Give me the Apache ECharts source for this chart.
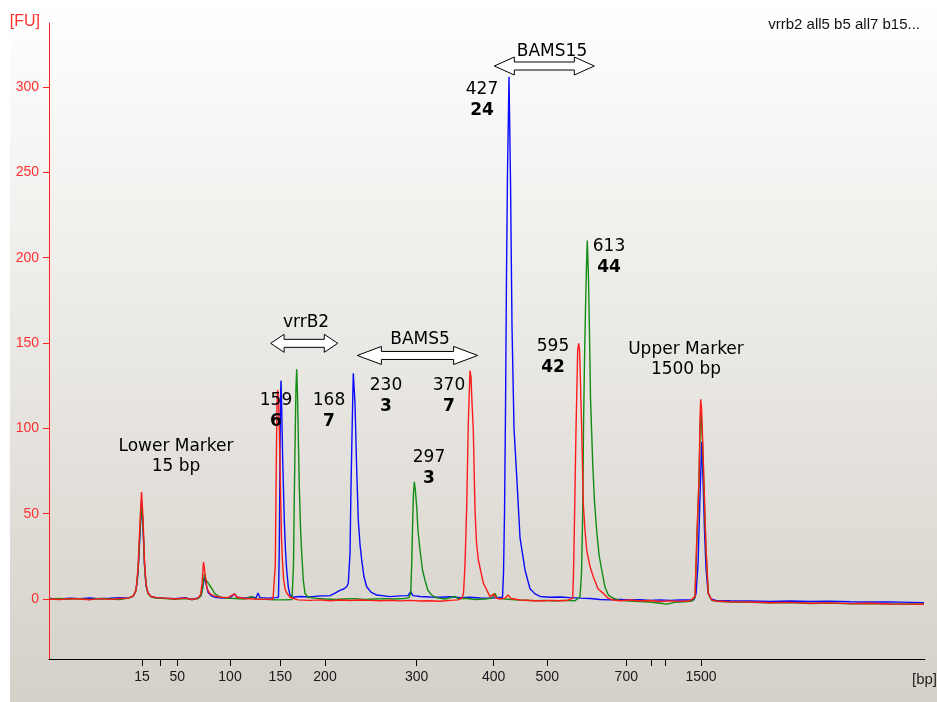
<!DOCTYPE html>
<html>
<head>
<meta charset="utf-8">
<script src="https://cdn.jsdelivr.net/npm/echarts@6/dist/echarts.min.js"></script>
<style>
html,body{margin:0;padding:0;background:#ffffff;}
#c{position:absolute;left:10px;top:0;width:927px;height:702px;}
</style>
</head>
<body>
<div id="c"></div>
<script>
// ---- data (x = migration time units, y = fluorescence [FU]) ----
const ladderBp   = [15, 25, 50, 100, 150, 200, 300, 400, 500, 700, 850, 1000, 1500];
const ladderTime = [14.2, 16.03, 17.73, 23.0, 28.03, 32.5, 41.67, 49.37, 54.73, 62.63, 65.17, 66.5, 70.1];
const hiddenLadderLabels = [25, 850, 1000];
const fuTicks = [0, 50, 100, 150, 200, 250, 300];

const blueTrace = [[4.9,0.3],[6.0,0],[7.0,0.5],[8.0,0.2],[9.0,0.6],[10.0,0.1],[11.0,0.4],[12.0,0.8],[12.8,0.5],[13.3,1.5],[13.6,5],[13.8,15],[14.0,38],[14.15,57],[14.3,42],[14.45,20],[14.6,8],[14.8,3.5],[15.1,1.5],[15.6,0.8],[16.5,0.5],[17.5,0.2],[18.5,0.8],[19.2,-0.3],[19.8,0.6],[20.1,2],[20.25,6],[20.45,13],[20.6,9],[20.8,4],[21.1,2],[21.5,1],[22.2,0.6],[23.0,0.8],[23.45,3],[23.7,1],[24.5,0.5],[25.2,1.2],[25.6,0.6],[25.8,3.5],[26.0,0.8],[26.8,0.5],[27.6,0.8],[27.85,1],[27.93,30],[28.0,85],[28.06,120],[28.1,128],[28.16,115],[28.27,81.4],[28.43,46],[28.55,28],[28.67,17],[28.83,7],[29.0,2.3],[29.3,1],[30.0,1.5],[31.0,1.2],[32.0,1.8],[32.7,1.8],[33.0,2],[33.5,3.5],[34.0,5],[34.4,6],[34.67,7.2],[34.83,9.2],[35.0,26.8],[35.1,65.8],[35.23,104.9],[35.33,132.2],[35.5,114.7],[35.67,75.6],[35.83,46.3],[36.0,32],[36.17,22.9],[36.4,13],[36.67,7.2],[37.1,4],[37.67,2.3],[39.0,1.4],[40.0,1.8],[40.8,2],[41.07,4.3],[41.3,2],[42.0,1.5],[43.0,1.2],[44.0,1],[45.0,1.3],[46.0,0.8],[47.0,1],[48.0,0.6],[49.0,0.5],[49.7,0.8],[50.25,1],[50.35,15],[50.45,50],[50.55,110],[50.65,190],[50.75,250],[50.9,306],[51.05,245],[51.2,160],[51.4,100],[51.67,72],[52.0,36],[52.5,17],[53.0,6],[53.5,3],[54.0,1.5],[55.0,1],[56.0,1.2],[57.0,0.8],[58.0,0.5],[59.0,0.3],[60.0,-0.3],[61.0,-0.5],[62.0,-0.2],[63.0,-0.6],[64.0,-0.4],[65.0,-0.8],[66.0,-0.5],[67.0,-0.8],[68.0,-0.5],[69.0,-0.6],[69.4,-0.5],[69.6,3],[69.8,20],[70.0,60],[70.17,92],[70.3,70],[70.45,40],[70.6,18],[70.8,4],[71.1,0],[71.6,-0.8],[73.0,-1],[75.0,-1.2],[77.0,-1.4],[79.0,-1.2],[81.0,-1.5],[83.0,-1.3],[85.0,-1.6],[87.0,-1.8],[89.0,-1.7],[91.0,-2],[92.4,-2.2]];

const redTrace = [[4.9,0],[6.0,-0.3],[7.0,0.2],[8.0,0],[9.0,-0.4],[10.0,0.2],[11.0,-0.2],[12.0,0.3],[12.8,0.5],[13.3,1.5],[13.6,5],[13.8,18],[14.0,45],[14.15,62.7],[14.3,48],[14.45,22],[14.6,9],[14.8,3.5],[15.1,1.5],[15.6,0.8],[16.5,0.5],[17.5,0],[18.5,0.5],[19.2,-0.3],[19.8,0.5],[20.05,2.5],[20.2,9],[20.35,21.7],[20.5,15],[20.7,6],[21.0,3],[21.4,1.8],[22.0,1],[22.8,0.8],[23.45,3],[23.7,1],[24.5,0.3],[25.5,0],[26.5,-0.2],[27.3,0],[27.45,0.5],[27.53,20],[27.62,75],[27.7,115],[27.77,122.5],[27.85,118],[27.93,100],[28.03,70],[28.13,40],[28.22,25],[28.35,12],[28.5,6],[28.67,3.5],[29.0,1],[29.8,-0.5],[31.0,-0.8],[32.0,-0.5],[33.0,-1],[34.0,-0.6],[35.0,-0.9],[36.0,-0.6],[37.0,-0.8],[38.0,-1],[39.0,-0.7],[40.0,-1.1],[41.0,-0.8],[42.0,-1.2],[43.0,-1],[44.0,-1.3],[45.0,-0.8],[45.8,-0.5],[46.2,0.5],[46.35,3.5],[46.5,20],[46.67,54],[46.83,103],[47.0,133.8],[47.1,130],[47.2,115],[47.33,99],[47.5,52],[47.65,33],[47.83,23],[48.33,9.4],[49.0,1.4],[49.4,3],[49.6,0.5],[50.0,0],[50.5,0.5],[50.8,2.3],[51.1,0.3],[52.0,-0.6],[53.0,-0.9],[54.0,-1.2],[55.0,-0.8],[56.0,-1],[56.8,-0.7],[57.27,0.5],[57.35,15],[57.43,40],[57.6,99],[57.77,146],[57.87,149.8],[57.95,146],[58.0,138],[58.17,99],[58.33,56],[58.5,40],[58.67,28.7],[59.0,19],[59.33,13],[59.8,6],[60.33,3.3],[60.8,0.5],[61.3,-0.6],[62.0,-1],[63.0,-0.6],[64.0,-1.2],[65.0,-0.9],[66.0,-1.5],[67.0,-1.1],[68.0,-1.4],[69.0,-1],[69.5,1.4],[69.67,34.6],[69.9,69.7],[70.0,105],[70.07,117],[70.15,112],[70.27,93],[70.43,62],[70.6,30.6],[70.83,3.3],[71.17,-0.6],[71.6,-1.2],[73.0,-1.6],[75.0,-1.8],[77.0,-2.2],[79.0,-2],[81.0,-2.5],[83.0,-2.3],[85.0,-2.7],[87.0,-2.5],[89.0,-2.9],[91.0,-3],[92.4,-3.1]];

const greenTrace = [[4.9,0],[6.0,0.3],[7.0,-0.2],[8.0,0.2],[9.0,-0.3],[10.0,0.3],[11.0,0],[12.0,-0.3],[12.8,0.5],[13.3,1.5],[13.6,5],[13.8,16],[14.0,40],[14.15,56],[14.3,44],[14.45,20],[14.6,8],[14.8,3],[15.1,1.2],[15.6,0.5],[16.5,0.2],[17.5,-0.2],[18.5,0.3],[19.2,-0.4],[19.8,0.2],[20.1,2],[20.25,6],[20.45,14.6],[20.6,11],[20.8,9.5],[21.0,9.4],[21.2,6],[21.5,3],[21.9,1.5],[22.5,0.5],[23.5,0.3],[24.5,0],[25.2,1.5],[25.5,0],[26.5,-0.2],[27.5,-0.4],[28.5,-0.5],[29.2,-0.3],[29.28,0],[29.35,20],[29.43,60],[29.53,100],[29.6,125],[29.67,134.6],[29.75,120],[29.83,95],[29.93,65.8],[30.05,42],[30.17,26.8],[30.33,11],[30.5,3.3],[30.8,1],[31.5,0.5],[32.5,0],[33.5,-0.3],[34.5,0],[35.5,0.2],[36.5,-0.2],[37.5,0],[38.5,0.2],[39.5,0],[40.5,0.3],[40.9,0.8],[41.07,3.3],[41.17,20],[41.27,46],[41.35,62],[41.43,68.7],[41.53,64],[41.67,54],[41.8,40],[42.0,28.7],[42.25,17],[42.5,11],[42.8,5],[43.17,2.3],[43.6,0.8],[44.5,0],[45.5,1.5],[45.8,0.2],[46.5,0.4],[47.5,-0.3],[48.5,0],[49.2,0.5],[49.5,3.3],[49.7,0.5],[50.5,0],[51.5,-0.5],[52.5,-0.7],[53.5,-1],[54.5,-0.8],[55.5,-1.2],[56.5,-0.8],[57.5,-1],[58.0,1.3],[58.15,15],[58.27,50],[58.35,100],[58.45,140],[58.55,170],[58.65,195],[58.73,210],[58.85,188],[58.95,155],[59.05,118],[59.27,79.5],[59.45,57],[59.67,40],[59.9,26],[60.17,17],[60.5,7],[60.83,2.3],[61.33,0.5],[62.0,-0.8],[63.0,-1.2],[64.0,-1.5],[65.0,-1.8],[66.0,-2.5],[66.7,-3],[67.5,-2],[68.5,-1.6],[69.2,-1.2],[69.5,1],[69.67,30],[69.9,70],[70.02,100],[70.07,109.5],[70.15,105],[70.27,88],[70.43,58],[70.6,28],[70.83,3],[71.17,-0.8],[71.6,-1.3],[73.0,-1.8],[75.0,-2],[77.0,-2.3],[79.0,-2.1],[81.0,-2.6],[83.0,-2.4],[85.0,-2.8],[87.0,-2.6],[89.0,-3],[91.0,-2.9],[92.4,-3]];

// peak annotations: [time, FU, size (bp), concentration]
const peakLabels = [[27.6,110.4,'159','6'],[32.9,110.4,'168','7'],[38.6,118.7,'230','3'],[42.9,77.0,'297','3'],[44.9,118.7,'370','7'],[48.2,292.1,'427','24'],[55.3,141.8,'595','42'],[60.9,200.1,'613','44']];
const markerLabels = [[17.6,83.2,'Lower Marker','15 bp'],[68.6,140.0,'Upper Marker','1500 bp']];
// region arrows: [startTime, endTime, FU, labelTime, labelFU, name]
const regions = [[27.07,33.77,149.8,30.6,161.7,'vrrB2'],[35.73,47.77,142.7,42.0,151.8,'BAMS5'],[49.43,59.43,312.3,55.2,320.5,'BAMS15']];
const sampleTitle = 'vrrb2 all5 b5 all7 b15...';

const FONT = 'DejaVu Sans';
const chart = echarts.init(document.getElementById('c'), null, {renderer:'canvas'});

function bpLabel(v){
  const i = ladderTime.findIndex(t => Math.abs(t - v) < 1e-6);
  if (i < 0) return '';
  const bp = ladderBp[i];
  return hiddenLadderLabels.indexOf(bp) >= 0 ? '' : String(bp);
}

function textItems(rows, boldSecond, lh){
  return function(params, api){
    const r = rows[params.dataIndex];
    const p = api.coord([api.value(0), api.value(1)]);
    return {type:'group', children:[
      {type:'text', x:p[0], y:p[1] - lh/2, style:{text:r[2], fontFamily:FONT, fontSize:17, fill:'#000', align:'center', verticalAlign:'middle'}},
      {type:'text', x:p[0], y:p[1] + lh/2, style:{text:r[3], fontFamily:FONT, fontSize:17, fontWeight: boldSecond ? 'bold' : 'normal', fill:'#000', align:'center', verticalAlign:'middle'}}
    ]};
  };
}

const option = {
  animation: false,
  backgroundColor: {type:'linear', x:0, y:0, x2:0, y2:1, colorStops:[{offset:0,color:'#ffffff'},{offset:1,color:'#d5d1c9'}]},
  title: {text: sampleTitle, right: 12, top: 12, textStyle:{fontFamily:'Liberation Sans', fontSize:15, fontWeight:'normal', color:'#111'}},
  grid: {left: 39, right: 12, top: 23, bottom: 43, outerBoundsMode: 'none', containLabel: false},
  xAxis: {
    type:'value', min:4.9, max:92.5,
    name:'[bp]', nameLocation:'end', nameGap:-13,
    nameTextStyle:{fontFamily:'Liberation Sans', fontSize:15, color:'#222', align:'left', verticalAlign:'top', padding:[13,0,0,0]},
    axisLine:{show:true, onZero:false, lineStyle:{color:'#000', width:1}},
    axisTick:{show:true, customValues: ladderTime, length:7, lineStyle:{color:'#000'}},
    axisLabel:{customValues: ladderTime, formatter: bpLabel, fontFamily:'Liberation Sans', fontSize:14, color:'#1a1a1a', margin:11},
    splitLine:{show:false}
  },
  yAxis: {
    type:'value', min:-35.16, max:337.5,
    name:'[FU]', nameLocation:'end', nameGap:1,
    nameTextStyle:{fontFamily:'Liberation Sans', fontSize:16, color:'#ff3030', align:'right', verticalAlign:'middle', padding:[0,9,0,0]},
    axisLine:{show:true, onZero:false, lineStyle:{color:'#ff2020', width:1}},
    axisTick:{show:true, customValues: fuTicks, length:6, lineStyle:{color:'#ff2020'}},
    axisLabel:{customValues: fuTicks, fontFamily:'Liberation Sans', fontSize:14, color:'#ff3030', margin:10},
    splitLine:{show:false}
  },
  series: [
    {type:'line', data: blueTrace, showSymbol:false, symbol:'none', lineStyle:{color:'#0a0aff', width:1.4}, z:2},
    {type:'line', data: greenTrace, showSymbol:false, symbol:'none', lineStyle:{color:'#128c12', width:1.4}, z:3},
    {type:'line', data: redTrace, showSymbol:false, symbol:'none', lineStyle:{color:'#ff1a1a', width:1.4}, z:4},
    {type:'custom', data: peakLabels.map(r => [r[0], r[1]]), z:6, silent:true, clip:false, renderItem: textItems(peakLabels, true, 21)},
    {type:'custom', data: markerLabels.map(r => [r[0], r[1]]), z:6, silent:true, clip:false, renderItem: textItems(markerLabels, false, 20)},
    {type:'custom', data: regions, z:7, silent:true, clip:false,
      encode:{x:[0,1,3], y:[2,4]},
      renderItem: function(params, api){
        const p1 = api.coord([api.value(0), api.value(2)]);
        const p2 = api.coord([api.value(1), api.value(2)]);
        const pl = api.coord([api.value(3), api.value(4)]);
        const x1 = p1[0], x2 = p2[0], y = p1[1];
        const hl = 0.2 * (x2 - x1), H = 9, S = 4;
        const pts = [[x1,y],[x1+hl,y-H],[x1+hl,y-S],[x2-hl,y-S],[x2-hl,y-H],[x2,y],[x2-hl,y+H],[x2-hl,y+S],[x1+hl,y+S],[x1+hl,y+H]];
        return {type:'group', children:[
          {type:'polygon', shape:{points:pts}, style:{fill:'#ffffff', stroke:'#000', lineWidth:1}},
          {type:'text', x:pl[0], y:pl[1], style:{text: regions[params.dataIndex][5], fontFamily:FONT, fontSize:17, fill:'#000', align:'center', verticalAlign:'middle'}}
        ]};
      }}
  ]
};
chart.setOption(option);
</script>
</body>
</html>
